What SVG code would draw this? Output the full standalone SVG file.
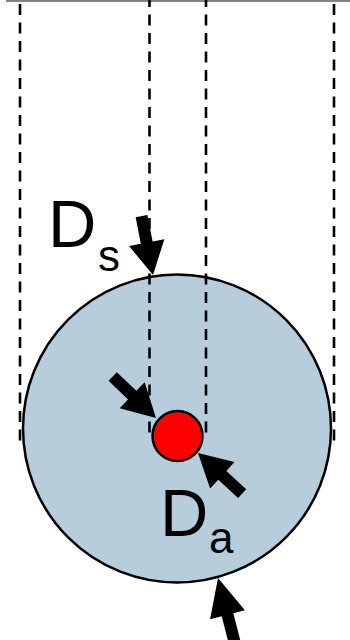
<svg xmlns="http://www.w3.org/2000/svg" width="350" height="640" viewBox="0 0 350 640">
<style>
.dash{stroke:#000;stroke-width:2.6;stroke-dasharray:11 7.5;fill:none}
.lbl{font-family:"Liberation Sans",Arial,sans-serif;fill:#000}
.arrow{fill:#000}
</style>
<defs>
<polygon id="arr" points="0,0 -33,-18 -33,-6 -60,-6 -60,6 -33,6 -33,18"/>
</defs>
<rect x="6" y="0" width="344" height="2" fill="#8a7e86"/>
<g id="sample">
<circle cx="177" cy="428.5" r="154" fill="#b7cddc" stroke="#000" stroke-width="2.5"/>
</g>
<g id="connectors">
<line class="dash" x1="20" y1="4" x2="20" y2="442"/>
<line class="dash" x1="334" y1="4" x2="334" y2="445"/>
<line class="dash" x1="149.5" y1="-4" x2="149.5" y2="436"/>
<line class="dash" x1="206" y1="-4" x2="206" y2="437"/>
</g>
<g id="particle">
<circle cx="177.5" cy="436" r="25" fill="#ff0000" stroke="#000" stroke-width="2.5"/>
</g>
<g id="arrows">
<use href="#arr" class="arrow" transform="translate(153,275) rotate(79)"/>
<use href="#arr" class="arrow" transform="translate(156,418) rotate(43.8)"/>
<use href="#arr" class="arrow" transform="translate(198,453) rotate(222.6)"/>
<use href="#arr" class="arrow" transform="translate(218,578) rotate(-104.5) scale(1.15,1)"/>
</g>
<g id="label-Ds">
<text class="lbl" x="48" y="247" font-size="67">D</text>
<text class="lbl" x="98" y="271" font-size="44">s</text>
</g>
<g id="label-Da">
<text class="lbl" x="160" y="536" font-size="67">D</text>
<text class="lbl" x="209" y="553" font-size="44">a</text>
</g>
</svg>
